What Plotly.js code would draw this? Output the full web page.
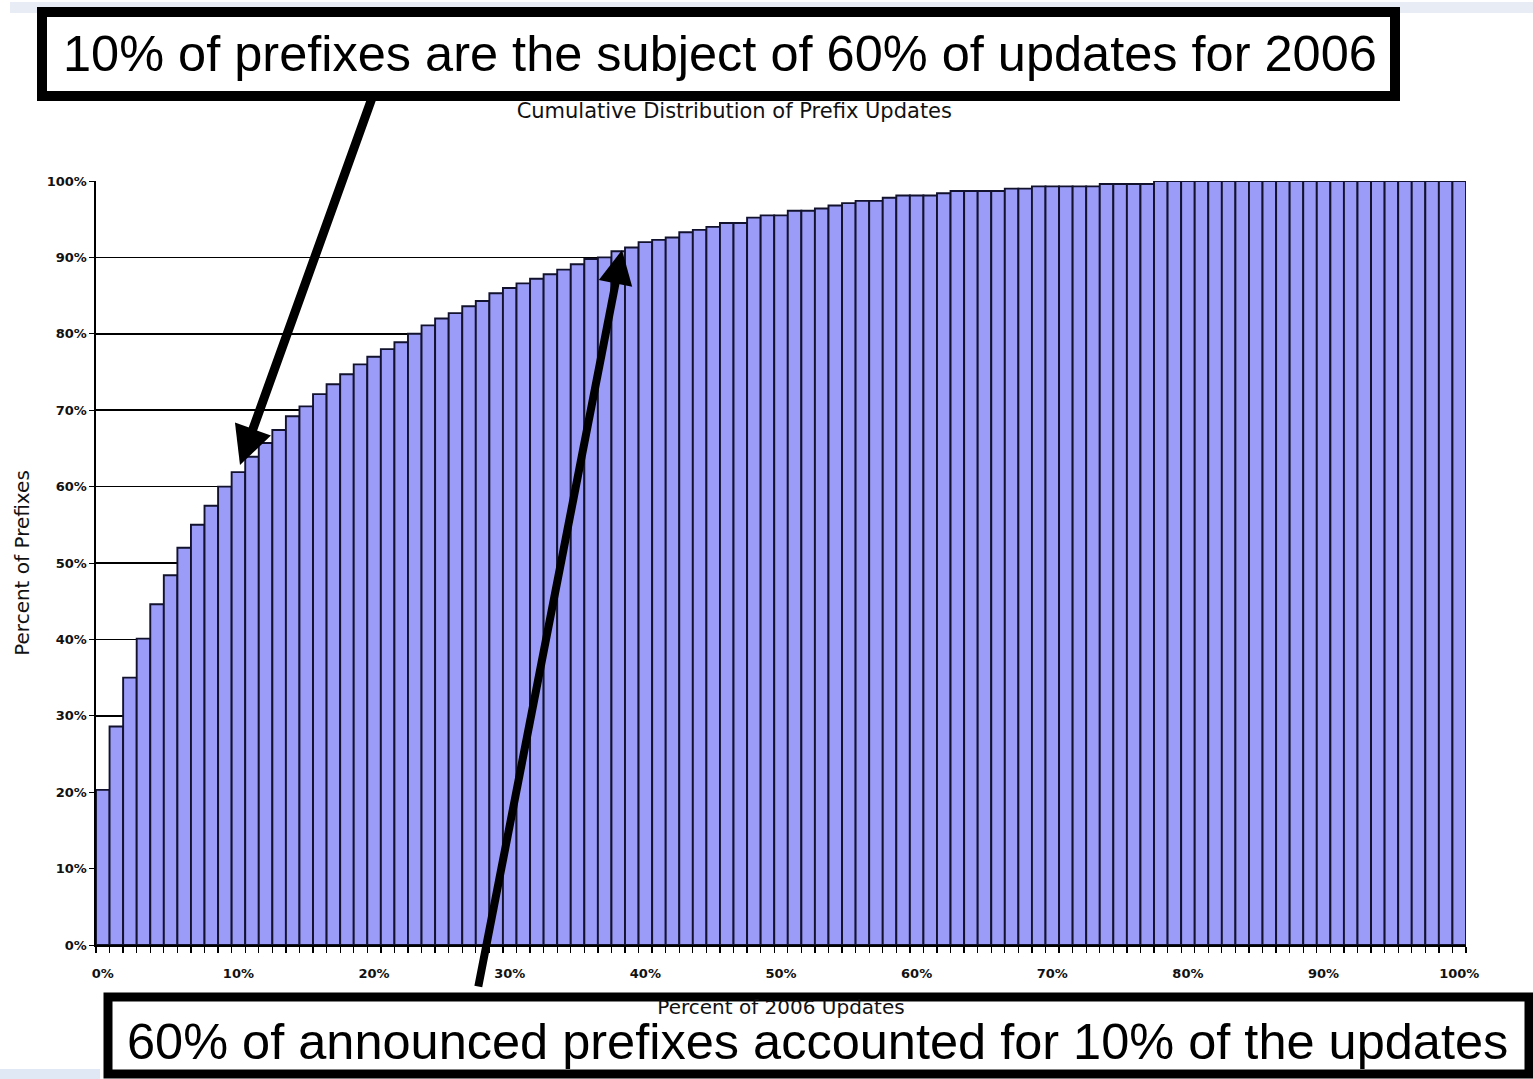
<!DOCTYPE html>
<html>
<head>
<meta charset="utf-8">
<script src="https://cdn.plot.ly/plotly-3.0.1.min.js"></script>
<style>
  html, body { margin: 0; padding: 0; background: #ffffff; }
  #chart { width: 1533px; height: 1079px; }
</style>
</head>
<body>
<div id="chart"></div>
<script>
// Percent of 2006 updates (category positions, one bar per percent)
const updatePct = [0,1,2,3,4,5,6,7,8,9,10,11,12,13,14,15,16,17,18,19,20,
  21,22,23,24,25,26,27,28,29,30,31,32,33,34,35,36,37,38,39,40,
  41,42,43,44,45,46,47,48,49,50,51,52,53,54,55,56,57,58,59,60,
  61,62,63,64,65,66,67,68,69,70,71,72,73,74,75,76,77,78,79,80,
  81,82,83,84,85,86,87,88,89,90,91,92,93,94,95,96,97,98,99,100];

// Cumulative percent of prefixes
const prefixPct = [20.3,28.6,35.0,40.1,44.6,48.4,52.0,55.0,57.5,60.0,
  61.9,63.9,65.7,67.4,69.2,70.5,72.1,73.4,74.7,76.0,
  77.0,78.0,78.9,80.0,81.1,82.0,82.7,83.6,84.3,85.3,
  86.0,86.6,87.2,87.8,88.4,89.1,89.8,90.0,90.8,91.3,
  92.0,92.3,92.6,93.3,93.6,94.0,94.5,94.5,95.2,95.5,
  95.5,96.1,96.1,96.4,96.8,97.1,97.4,97.4,97.8,98.1,
  98.1,98.1,98.4,98.7,98.7,98.7,98.7,99.0,99.0,99.3,
  99.3,99.3,99.3,99.3,99.6,99.6,99.6,99.6,100,100,
  100,100,100,100,100,100,100,100,100,100,
  100,100,100,100,100,100,100,100,100,100,100];

const xTickVals = [0,10,20,30,40,50,60,70,80,90,100];
const xTickText = ['0%','10%','20%','30%','40%','50%','60%','70%','80%','90%','100%'];
const yTickVals = [0,10,20,30,40,50,60,70,80,90,100];
const yTickText = ['0%','10%','20%','30%','40%','50%','60%','70%','80%','90%','100%'];

const chartTitle = 'Cumulative Distribution of Prefix Updates';
const xTitle = 'Percent of 2006 Updates';
const yTitle = 'Percent of Prefixes';
const topNote = '10% of prefixes are the subject of 60% of updates for 2006';
const bottomNote = '60% of announced prefixes accounted for 10% of the updates';

const trace = {
  type: 'bar',
  x: updatePct,
  y: prefixPct,
  marker: { color: '#9b9bf8', line: { color: '#12122e', width: 1.9 } },
  hoverinfo: 'skip'
};

const tickFont = { family: 'DejaVu Sans', size: 13, color: '#111', weight: 'bold' };
const labelFont = { family: 'DejaVu Sans', size: 20, color: '#111' };
const noteFont = { family: 'Liberation Sans, Arial, sans-serif', size: 50.5, color: '#000' };

const layout = {
  width: 1533,
  height: 1079,
  margin: { l: 96, r: 67, t: 181, b: 134 },
  paper_bgcolor: '#ffffff',
  plot_bgcolor: '#ffffff',
  showlegend: false,
  bargap: 0,
  hovermode: false,
  title: {
    text: chartTitle,
    font: { family: 'DejaVu Sans', size: 21, color: '#111' },
    xref: 'container', x: 0.479, xanchor: 'center',
    yref: 'container', y: 1 - 111 / 1079, yanchor: 'middle'
  },
  xaxis: {
    range: [-0.5, 100.5],
    tickvals: xTickVals,
    ticktext: xTickText,
    tickfont: tickFont,
    ticks: '',
    ticklabelstandoff: 16,
    showgrid: false,
    zeroline: false,
    showline: true,
    linecolor: '#000',
    linewidth: 1.6,
    minor: { ticks: 'outside', ticklen: 6, tickcolor: '#000', tickwidth: 1.3, tick0: 0.5, dtick: 1, showgrid: false },
    title: { text: xTitle, font: labelFont, standoff: 20 },
    fixedrange: true
  },
  yaxis: {
    range: [0, 100],
    tickvals: yTickVals,
    ticktext: yTickText,
    tickfont: tickFont,
    ticks: 'outside',
    ticklen: 5,
    tickcolor: '#000',
    showgrid: true,
    gridcolor: '#000',
    gridwidth: 1.6,
    zeroline: false,
    showline: true,
    linecolor: '#000',
    linewidth: 1.6,
    title: { text: yTitle, font: labelFont, standoff: 11 },
    fixedrange: true
  },
  shapes: [
    { type: 'rect', xref: 'paper', yref: 'paper',
      x0: (10 - 96) / 1370, x1: (1540 - 96) / 1370,
      y0: (945 - 13) / 764, y1: (945 - 2) / 764,
      fillcolor: '#e8edf5', line: { width: 0 }, layer: 'above' },
    { type: 'rect', xref: 'paper', yref: 'paper',
      x0: (-10 - 96) / 1370, x1: (100 - 96) / 1370,
      y0: (945 - 1085) / 764, y1: (945 - 1069) / 764,
      fillcolor: '#dfe8f4', line: { width: 0 }, layer: 'above' },
    { type: 'rect', xref: 'paper', yref: 'paper',
      x0: (42 - 96) / 1370, x1: (1395 - 96) / 1370,
      y0: (945 - 96) / 764, y1: (945 - 12) / 764,
      fillcolor: '#ffffff', line: { color: '#000', width: 10 }, layer: 'above' },
    { type: 'rect', xref: 'paper', yref: 'paper',
      x0: (108 - 96) / 1370, x1: (1529 - 96) / 1370,
      y0: (945 - 1074) / 764, y1: (945 - 997) / 764,
      fillcolor: '#ffffff', line: { color: '#000', width: 9 }, layer: 'above' }
  ],
  annotations: [
    { text: topNote, font: noteFont, showarrow: false,
      xref: 'paper', yref: 'paper',
      x: (720 - 96) / 1370, y: (945 - 53) / 764, xanchor: 'center', yanchor: 'middle' },
    { text: bottomNote, font: noteFont, showarrow: false,
      xref: 'paper', yref: 'paper',
      x: (817 - 96) / 1370, y: (945 - 1041) / 764, xanchor: 'center', yanchor: 'middle' },
    { text: '', showarrow: true, xref: 'x', yref: 'y',
      x: (240 - 96) / 13.564 - 0.5, y: (945 - 465) / 7.64,
      axref: 'pixel', ayref: 'pixel', ax: 132, ay: -367,
      arrowhead: 2, arrowsize: 0.85, arrowwidth: 9, arrowcolor: '#000', standoff: 0 },
    { text: '', showarrow: true, xref: 'x', yref: 'y',
      x: (622 - 96) / 13.564 - 0.5, y: (945 - 250) / 7.64,
      axref: 'pixel', ayref: 'pixel', ax: -144, ay: 738,
      arrowhead: 2, arrowsize: 0.85, arrowwidth: 8, arrowcolor: '#000', standoff: 0 }
  ]
};

Plotly.newPlot('chart', [trace], layout, { displayModeBar: false, staticPlot: true });
</script>
</body>
</html>
